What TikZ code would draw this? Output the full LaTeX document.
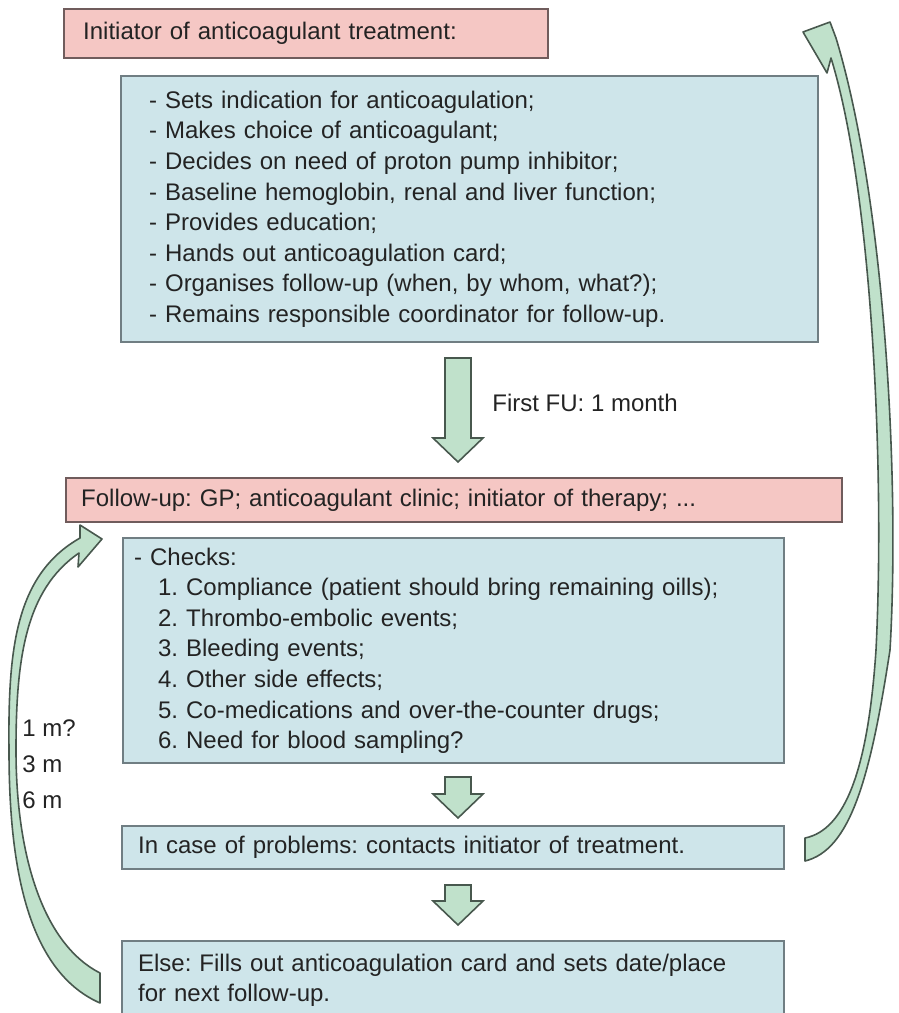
\documentclass[tikz,border=0pt]{standalone}
\usepackage{fontspec}
\setmainfont{Liberation Sans}
\usepackage{tikz}
\usetikzlibrary{calc}
\definecolor{pinkfill}{RGB}{245,199,196}
\definecolor{pinkline}{RGB}{112,92,92}
\definecolor{bluefill}{RGB}{206,229,234}
\definecolor{blueline}{RGB}{112,126,131}
\definecolor{greenfill}{RGB}{192,225,203}
\definecolor{greenline}{RGB}{72,88,78}
\definecolor{txt}{RGB}{35,35,35}
\frenchspacing

\begin{document}
\begin{tikzpicture}[x=0.5pt, y=-0.5pt,
  every node/.style={text=txt, font=\fontsize{12}{15.3}\selectfont},
  pinkbox/.style={draw=pinkline, fill=pinkfill, line width=1.2pt, anchor=north west, align=left, inner ysep=0pt},
  bluebox/.style={draw=blueline, fill=bluefill, line width=1.1pt, anchor=north west, align=left, inner ysep=0pt},
  lbl/.style={anchor=west, inner sep=0pt},
  backarrow/.style={draw=greenline, fill=greenfill, line width=0.8pt, line join=round},
  blockdown/.style={draw=greenline, fill=greenfill, line width=0.8pt, line join=miter,
    to path={let \p1=(\tikztostart), \p2=(\tikztotarget) in
      (\x1-6.5pt,\y1) -- (\x1+6.5pt,\y1) -- (\x1+6.5pt,\y2+12pt) -- (\x1+12.5pt,\y2+12pt)
      -- (\x2,\y2) -- (\x1-12.5pt,\y2+12pt) -- (\x1-6.5pt,\y2+12pt) -- cycle}}]

  \useasboundingbox (0,0) rectangle (899,1013);

  %% initiator
  \node[pinkbox, minimum width=242pt, minimum height=24.5pt, text width=223pt, inner xsep=9.5pt]
    (init) at (63,8) {Initiator of anticoagulant treatment:};
  \node[bluebox, minimum width=348.5pt, minimum height=133pt, text width=320.5pt, inner xsep=14pt]
    (tasks) at (120,75) {- Sets indication for anticoagulation;\\
      - Makes choice of anticoagulant;\\
      - Decides on need of proton pump inhibitor;\\
      - Baseline hemoglobin, renal and liver function;\\
      - Provides education;\\
      - Hands out anticoagulation card;\\
      - Organises follow-up (when, by whom, what?);\\
      - Remains responsible coordinator for follow-up.};

  %% follow-up
  \node[pinkbox, minimum width=388pt, minimum height=22pt, text width=373pt, inner xsep=7.5pt]
    (follow) at (65,477) {Follow-up: GP; anticoagulant clinic; initiator of therapy; ...};
  \node[bluebox, minimum width=330.5pt, minimum height=112.5pt, text width=319.5pt, inner xsep=5.5pt]
    (checks) at (122,537) {- Checks:\\
      \hspace*{1em}1. Compliance (patient should bring remaining oills);\\
      \hspace*{1em}2. Thrombo-embolic events;\\
      \hspace*{1em}3. Bleeding events;\\
      \hspace*{1em}4. Other side effects;\\
      \hspace*{1em}5. Co-medications and over-the-counter drugs;\\
      \hspace*{1em}6. Need for blood sampling?};
  \node[bluebox, minimum width=331pt, minimum height=21.5pt, text width=315pt, inner xsep=8pt]
    (problem) at (121,825) {In case of problems: contacts initiator of treatment.};
  \node[bluebox, minimum width=331pt, minimum height=39pt, text width=315pt, inner xsep=8pt]
    (nextfu) at (121,940) {Else: Fills out anticoagulation card and sets date/place\\
      for next follow-up.};

  %% labels
  \node[lbl] (firstfu) at (492,403) {First FU: 1 month};
  \node[lbl] (m1) at (22,728) {1 m?};
  \node[lbl] (m3) at (22,764) {3 m};
  \node[lbl] (m6) at (22,800) {6 m};

  %% down arrows
  \coordinate (fu0) at (458,358);  \coordinate (fu1) at (458,462);
  \coordinate (ck0) at (458,777);  \coordinate (ck1) at (458,818);
  \coordinate (pr0) at (458,885);  \coordinate (pr1) at (458,925);
  \draw[blockdown] (fu0) to (fu1); % tasks -> follow
  \draw[blockdown] (ck0) to (ck1); % checks -> problem
  \draw[blockdown] (pr0) to (pr1); % problem -> nextfu

  %% back to initiator
  \draw[backarrow] (805,838) -- (805,861)
    .. controls (850,850) and (870,780) .. (890,650)
    .. controls (900,480) and (885,200) .. (836,38)
    -- (830,22) -- (803,32) -- (827,73) -- (831,58)
    .. controls (872,190) and (885,470) .. (876,650)
    .. controls (868,770) and (845,830) .. (805,838) -- cycle;

  %% back to follow-up
  \draw[backarrow] (100,973) -- (100,1003)
    .. controls (25,970) and (9,860) .. (9,750)
    .. controls (8,650) and (15,575) .. (80,538)
    -- (80,525) -- (102,539) -- (78,567) -- (79,553)
    .. controls (25,590) and (16,660) .. (16,750)
    .. controls (16,860) and (45,945) .. (100,973) -- cycle;

\end{tikzpicture}
\end{document}
